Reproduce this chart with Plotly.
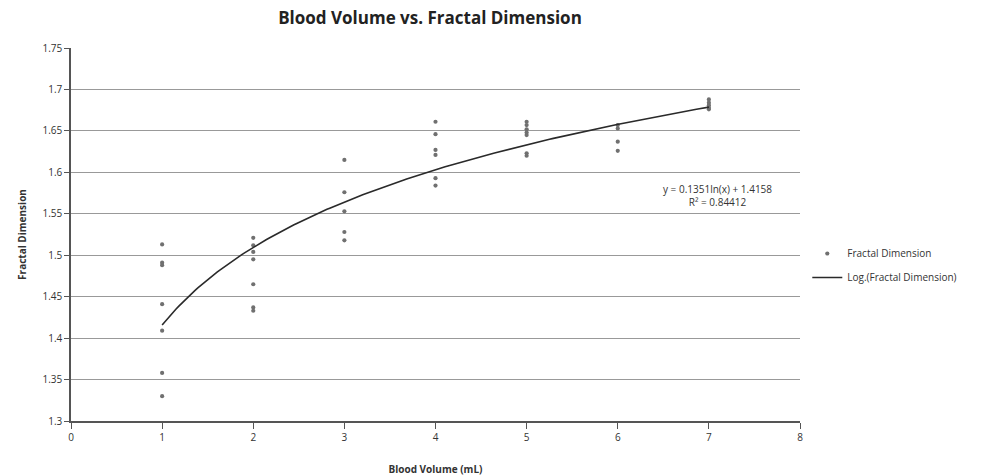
import numpy as np
import plotly.graph_objects as go

# Data
blood_volume = [1]*7 + [2]*7 + [3]*5 + [4]*6 + [5]*7 + [6]*4 + [7]*5
fractal_dim = [1.513, 1.491, 1.488, 1.441, 1.409, 1.358, 1.330,
               1.521, 1.512, 1.504, 1.495, 1.465, 1.437, 1.433,
               1.615, 1.576, 1.553, 1.528, 1.518,
               1.661, 1.646, 1.627, 1.621, 1.593, 1.584,
               1.661, 1.657, 1.652, 1.648, 1.645, 1.623, 1.620,
               1.657, 1.653, 1.637, 1.626,
               1.688, 1.684, 1.681, 1.678, 1.676]

# Trendline from the chart's stated equation
coef_a = 0.1351
coef_b = 1.4158
r_squared = 0.84412
trend_x = np.linspace(1, 7, 200)
trend_y = coef_a * np.log(trend_x) + coef_b

x_ticks = [0, 1, 2, 3, 4, 5, 6, 7, 8]
y_ticks = [1.3, 1.35, 1.4, 1.45, 1.5, 1.55, 1.6, 1.65, 1.7, 1.75]
y_tick_labels = ["1.3", "1.35", "1.4", "1.45", "1.5", "1.55", "1.6", "1.65", "1.7", "1.75"]

font_family = "Open Sans, Liberation Sans, sans-serif"

fig = go.Figure()
fig.add_trace(go.Scatter(
    x=blood_volume, y=fractal_dim, mode="markers",
    name="Fractal Dimension", legendgroup="a",
    marker=dict(size=4.2, color="#707070"),
))
fig.add_trace(go.Scatter(
    x=trend_x, y=trend_y, mode="lines",
    name="Log.(Fractal Dimension)", legendgroup="b",
    line=dict(color="#2a2a2a", width=1.6),
))

fig.update_layout(
    width=991, height=476,
    margin=dict(l=71, r=191, t=48, b=55),
    paper_bgcolor="white", plot_bgcolor="white",
    font=dict(family=font_family, size=10, color="#333333"),
    title=dict(text="<b>Blood Volume vs. Fractal Dimension</b>",
               x=(430) / 991, xanchor="center", y=1 - 18 / 476, yanchor="middle",
               font=dict(size=17, color="#222222", family=font_family)),
    showlegend=True,
    legend=dict(x=1.01, xanchor="left", y=0.488, yanchor="top",
                font=dict(size=10, color="#333333"), itemwidth=30,
                bgcolor="rgba(0,0,0,0)", tracegroupgap=5),
    annotations=[
        dict(text="y = 0.1351ln(x) + 1.4158<br>R² = 0.84412",
             x=7.1, y=1.572, xref="x", yref="y", showarrow=False,
             align="center", xanchor="center", yanchor="middle",
             font=dict(size=10, color="#333333")),
    ],
)
fig.update_xaxes(
    range=[0, 8], tickvals=x_ticks, ticktext=[str(v) for v in x_ticks],
    showgrid=False, zeroline=False, automargin=False,
    showline=True, linecolor="#555555", linewidth=1.5,
    ticks="outside", ticklen=6, tickcolor="#555555",
    title=dict(text="<b>Blood Volume (mL)</b>", font=dict(size=10), standoff=24),
)
fig.update_yaxes(
    range=[1.3, 1.75], tickvals=y_ticks, ticktext=y_tick_labels,
    showgrid=True, gridcolor="#999999", gridwidth=1.4, zeroline=False, automargin=False,
    showline=True, linecolor="#555555", linewidth=1.5,
    ticks="outside", ticklen=5, tickcolor="#555555",
    title=dict(text="<b>Fractal Dimension</b>", font=dict(size=10), standoff=14),
)

fig.write_html("out.html")
